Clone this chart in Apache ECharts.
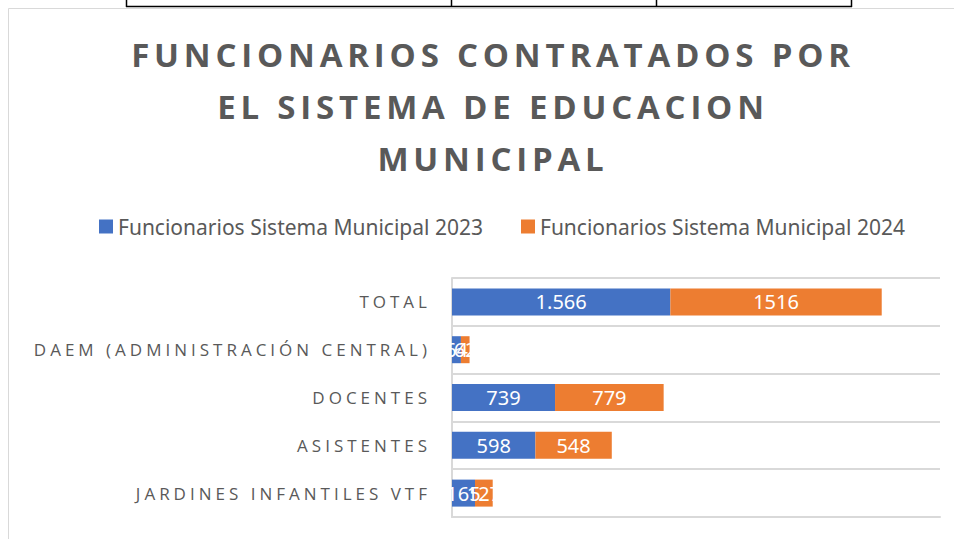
<!DOCTYPE html>
<html>
<head>
<meta charset="utf-8">
<script src="https://cdn.jsdelivr.net/npm/echarts@6/dist/echarts.min.js"></script>
<style>
  html, body { margin: 0; padding: 0; background: #fff; }
  #main { width: 954px; height: 539px; }
  /* espaciado de letras como en el original (titulo y ejes) */
  #main text[style*="33px"] { letter-spacing: 4.8px; }
  #main text[style*="17px"] { letter-spacing: 4px; }
</style>
</head>
<body>
<div id="main"></div>
<script>
// datos
const categorias = ['TOTAL', 'DAEM (ADMINISTRACIÓN CENTRAL)', 'DOCENTES', 'ASISTENTES', 'JARDINES INFANTILES VTF']
const serie2023 = [1566, 64, 739, 598, 165]
const serie2024 = [1516, 62, 779, 548, 127]
const etiquetas2023 = ['1.566', '64', '739', '598', '165']
const etiquetas2024 = ['1516', '62', '779', '548', '127']
const nombres = ['Funcionarios Sistema Municipal 2023', 'Funcionarios Sistema Municipal 2024']

const chart = echarts.init(document.getElementById('main'), null, { renderer: 'svg' })

const labelStyle = (textos) => ({
  show: true,
  position: 'inside',
  color: '#fff',
  fontSize: 20,
  fontFamily: 'Noto Sans',
  formatter: (p) => textos[p.dataIndex]
})

const option = {
  animation: false,
  title: {
    text: 'FUNCIONARIOS CONTRATADOS POR\nEL SISTEMA DE EDUCACION\nMUNICIPAL',
    left: 488,
    textAlign: 'center',
    top: 23,
    textStyle: {
      fontFamily: 'Open Sans',
      fontWeight: 'bold',
      fontSize: 33,
      lineHeight: 52,
      color: '#595959'
    }
  },
  legend: {
    top: 211,
    left: 94,
    itemWidth: 14,
    itemHeight: 14,
    itemGap: 38,
    icon: 'rect',
    textStyle: { fontFamily: 'Noto Sans', fontSize: 21, color: '#595959' },
    data: nombres
  },
  grid: { left: 452, right: 14, top: 278, bottom: 22 },
  xAxis: {
    type: 'value',
    min: 0,
    max: 3500,
    axisLabel: { show: false },
    axisTick: { show: false },
    axisLine: { show: true, lineStyle: { color: '#d9d9d9', width: 2 } },
    splitLine: { show: false }
  },
  yAxis: {
    type: 'category',
    inverse: true,
    data: categorias,
    axisTick: { show: false },
    axisLine: { show: true, lineStyle: { color: '#d9d9d9', width: 2 } },
    splitLine: { show: true, lineStyle: { color: '#d9d9d9', width: 2 } },
    axisLabel: {
      margin: 21,
      color: '#595959',
      fontFamily: 'Open Sans',
      fontSize: 17
    }
  },
  series: [
    {
      name: nombres[0],
      type: 'bar',
      stack: 'total',
      barWidth: 27,
      itemStyle: { color: '#4472c4' },
      label: labelStyle(etiquetas2023),
      data: serie2023
    },
    {
      name: nombres[1],
      type: 'bar',
      stack: 'total',
      barWidth: 27,
      itemStyle: { color: '#ed7d31' },
      label: labelStyle(etiquetas2024),
      data: serie2024
    }
  ],
  graphic: [
    // borde del area del grafico
    { type: 'rect', shape: { x: 8.5, y: 8.5, width: 980, height: 580 }, style: { fill: 'none', stroke: '#d9d9d9', lineWidth: 1 } },
    // restos de la tabla de arriba
    { type: 'line', shape: { x1: 126, y1: 6.5, x2: 852, y2: 6.5 }, style: { stroke: '#000', lineWidth: 1.5 } },
    { type: 'line', shape: { x1: 126.5, y1: 0, x2: 126.5, y2: 7 }, style: { stroke: '#000', lineWidth: 1.5 } },
    { type: 'line', shape: { x1: 451.5, y1: 0, x2: 451.5, y2: 7 }, style: { stroke: '#000', lineWidth: 1.5 } },
    { type: 'line', shape: { x1: 656.5, y1: 0, x2: 656.5, y2: 7 }, style: { stroke: '#000', lineWidth: 1.5 } },
    { type: 'line', shape: { x1: 851.5, y1: 0, x2: 851.5, y2: 7 }, style: { stroke: '#000', lineWidth: 1.5 } }
  ]
}

chart.setOption(option)
</script>
</body>
</html>
